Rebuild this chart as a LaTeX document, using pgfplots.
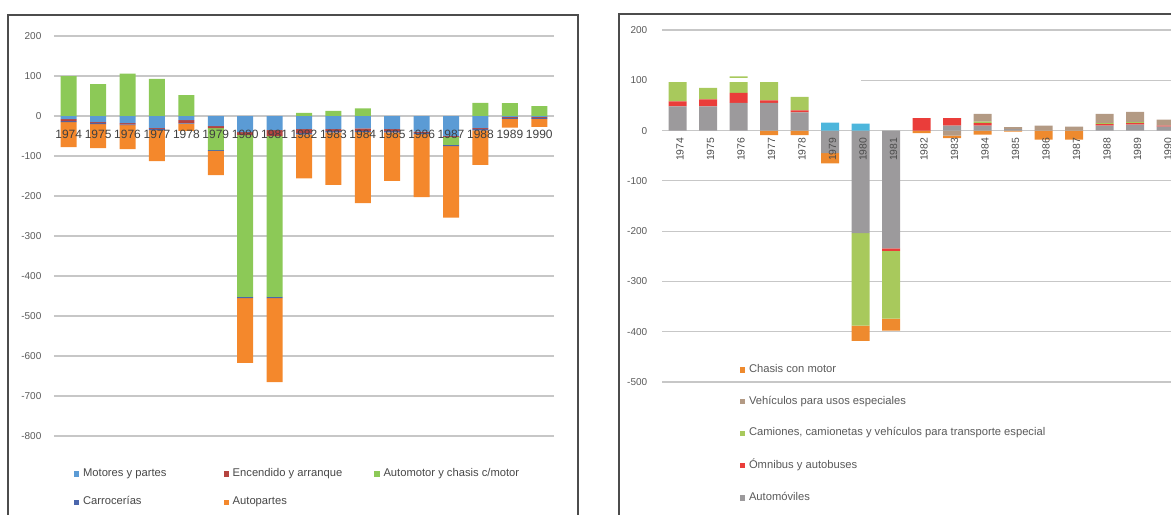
\documentclass[border=0pt]{standalone}
\usepackage{pgfplots}
\pgfplotsset{compat=1.18}
\usepackage{pgfplotstable}
\usepackage{fontspec}
\setmainfont{Liberation Sans}

\definecolor{cM}{HTML}{5B9BD5}
\definecolor{cE}{HTML}{B5443F}
\definecolor{cA}{HTML}{8CC957}
\definecolor{cC}{HTML}{4A66AC}
\definecolor{cP}{HTML}{F4882C}
\definecolor{rAu}{HTML}{9C9A9C}
\definecolor{rOm}{HTML}{EA3D3A}
\definecolor{rCa}{HTML}{A8C95C}
\definecolor{rVe}{HTML}{B39A84}
\definecolor{rCh}{HTML}{EE8A2E}
\definecolor{rCy}{HTML}{4DB6DC}

% Left chart (positive and negative values are stacked separately)
\pgfplotstableread{
x M E A C P
0 -8 -5 100 -2 -63
1 -15 -3 80 -2 -60
2 -18 -3 106 -2 -60
3 -30 -2 93 -3 -78
4 -10 -7 52 -2 -18
5 -25 -5 -55 -2 -61
6 -40 -8 -404 -3 -162
7 -35 -15 -402 -3 -210
8 -33 -10 8 -3 -110
9 -33 -5 13 -3 -131
10 -31 -6 19 -3 -178
11 -33 -5 0 -3 -121
12 -39 -3 0 -3 -158
13 -50 -2 -20 -3 -179
14 -30 -3 33 -3 -86
15 -3 -2 32 -2 -22
16 -3 -2 25 -2 -20
}\leftdata

% Right chart
\pgfplotstableread{
x Cy Au Om Ca Ve Ch
0 0 48 10 42 0 0
1 0 48 14 23 0 0
2 0 55 20 33 0 0
3 0 55 5 40 0 -9
4 0 36 4 27 0 -9
5 16 -45 0 0 0 -20
6 14 -204 0 -184 0 -30
7 0 -234 -5 -135 0 -24
8 0 0 25 0 0 -5
9 0 10 15 0 -10 -5
10 0 10 5 3 15 -8
11 0 3 0 0 4 -2
12 0 0 0 0 10 -18
13 0 0 0 0 8 -18
14 0 10 3 2 18 0
15 0 12 3 2 20 0
16 0 8 2 0 12 0
}\rightdata

\pgfplotsset{
  legsq/.style={legend image code/.code={\fill[##1] (0pt,-1.3pt) rectangle (2.6pt,1.3pt);}},
  base/.style={
    scale only axis,
    xmin=-0.5, xmax=16.5,
    axis x line*=middle, axis y line*=left,
    axis line style={draw=none},
    major tick length=0pt,
    hide obscured x ticks=false, hide obscured y ticks=false,
    /pgf/number format/assume math mode=true,
    clip=false,
  },
  common/.style={
    base,
    ybar stacked,
    stack negative=separate,
    ymajorgrids,
    major grid style={draw=black!22, line width=0.6pt},
    xtick=\empty,
    y tick label style={font=\fontsize{5}{6}\selectfont, text=black!65},
    legend cell align=left,
  },
  yearlabels/.style={
    base,
    ytick=\empty,
    xtick={0,...,16},
    xticklabels={1974,1975,1976,1977,1978,1979,1980,1981,1982,1983,1984,1985,1986,1987,1988,1989,1990},
  },
}

\begin{document}
\begin{tikzpicture}
\path[use as bounding box] (0pt,0pt) rectangle (585.5pt,-257pt);
% frames
\draw[black!70, line width=0.6pt] (4pt,-260pt) -- (4pt,-7.5pt) -- (289pt,-7.5pt) -- (289pt,-260pt);
\draw[black!70, line width=0.6pt] (309.5pt,-260pt) -- (309.5pt,-7pt) -- (590pt,-7pt);

% ---------------- LEFT CHART ----------------
\begin{axis}[common,
  at={(27pt,-218pt)}, anchor=south west,
  width=250pt, height=200pt,
  ymin=-800, ymax=200,
  ytick={-800,-700,...,200},
  bar width=8pt,
  y tick label style={xshift=-2.8pt},
  extra y ticks={0}, extra y tick labels={},
  extra y tick style={grid style={draw=black!45, line width=0.6pt}},
  legend columns=3,
  legend style={at={(0.039,-0.07)}, anchor=north west, draw=none, fill=none,
    inner sep=0pt, font=\fontsize{5.6}{6.5}\selectfont, text=black!72,
    row sep=4.5pt,
    /tikz/column 2/.style={column sep=26.5pt},
    /tikz/column 4/.style={column sep=14pt}},
]
\addplot[fill=cM, draw=none, legsq] table[x=x, y=M] {\leftdata};
\addlegendentry{Motores y partes}
\addplot[fill=cE, draw=none, legsq] table[x=x, y=E] {\leftdata};
\addlegendentry{Encendido y arranque}
\addplot[fill=cA, draw=none, legsq] table[x=x, y=A] {\leftdata};
\addlegendentry{Automotor y chasis c/motor}
\addplot[fill=cC, draw=none, legsq] table[x=x, y=C] {\leftdata};
\addlegendentry{Carrocerías}
\addplot[fill=cP, draw=none, legsq] table[x=x, y=P] {\leftdata};
\addlegendentry{Autopartes}
\end{axis}
% year labels drawn on top of the bars
\begin{axis}[yearlabels,
  at={(27pt,-218pt)}, anchor=south west,
  width=250pt, height=200pt,
  ymin=-800, ymax=200,
  x tick label style={font=\fontsize{6}{6.5}\selectfont, text=black!75, yshift=-3.5pt},
]
\end{axis}

% ---------------- RIGHT CHART ----------------
\begin{axis}[common,
  at={(331.15pt,-191pt)}, anchor=south west,
  width=259.25pt, height=176pt,
  ymin=-500, ymax=200,
  ytick={-500,-400,...,200},
  bar width=9pt,
  y tick label style={xshift=-4pt},
  extra y ticks={0}, extra y tick labels={},
  extra y tick style={grid style={draw=black!45, line width=0.6pt}},
  reverse legend,
  legend style={at={(0.1487,0.0625)}, anchor=north west, draw=none, fill=none,
    inner sep=0pt, font=\fontsize{5.6}{6.5}\selectfont, text=black!65,
    row sep=6.2pt},
]
\fill[white] (axis cs:-0.5,96) rectangle (axis cs:6,104);
\addplot[fill=rCy, draw=none, forget plot] table[x=x, y=Cy] {\rightdata};
\addplot[fill=rAu, draw=none, legsq] table[x=x, y=Au] {\rightdata};
\addlegendentry{Automóviles}
\addplot[fill=rOm, draw=none, legsq] table[x=x, y=Om] {\rightdata};
\addlegendentry{Ómnibus y autobuses}
\addplot[fill=rCa, draw=none, legsq] table[x=x, y=Ca] {\rightdata};
\addlegendentry{Camiones, camionetas y vehículos para transporte especial}
\addplot[fill=rVe, draw=none, legsq] table[x=x, y=Ve] {\rightdata};
\addlegendentry{Vehículos para usos especiales}
\addplot[fill=rCh, draw=none, legsq] table[x=x, y=Ch] {\rightdata};
\addlegendentry{Chasis con motor}
\end{axis}
\begin{axis}[yearlabels,
  at={(331.15pt,-191pt)}, anchor=south west,
  width=259.25pt, height=176pt,
  ymin=-500, ymax=200,
  x tick label style={font=\fontsize{5.2}{6}\selectfont, text=black!70, rotate=90, anchor=east, yshift=-1.2pt},
]
\end{axis}
\end{tikzpicture}
\end{document}
